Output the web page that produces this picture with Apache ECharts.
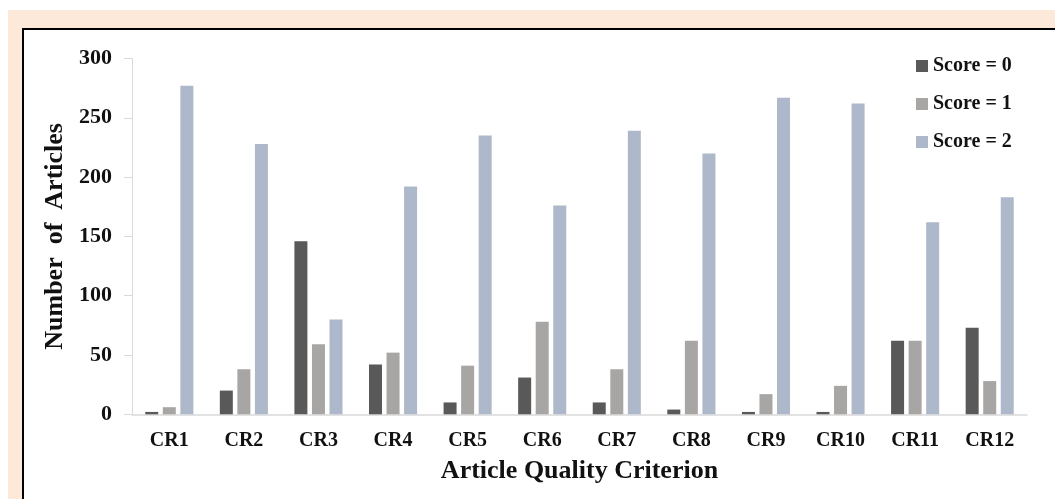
<!DOCTYPE html>
<html>
<head>
<meta charset="utf-8">
<script src="https://cdn.jsdelivr.net/npm/echarts@6/dist/echarts.min.js"></script>
<style>
  html, body { margin: 0; padding: 0; background: #fff; overflow: hidden; }
  #peach { position: absolute; left: 8px; top: 10px; right: 0; bottom: 0; background: #fce9da; }
  #frame { position: absolute; left: 22px; top: 28px; right: -4px; bottom: -4px; background: #fff;
           border-left: 2px solid #000; border-top: 2px solid #000; }
  #chart { position: absolute; left: 0; top: 0; width: 1055px; height: 499px; }
</style>
</head>
<body>
<div id="peach"></div>
<div id="frame"></div>
<div id="chart"></div>
<script>
// 数据
var criteria = ['CR1', 'CR2', 'CR3', 'CR4', 'CR5', 'CR6', 'CR7', 'CR8', 'CR9', 'CR10', 'CR11', 'CR12'];
var seriesNames = ['Score = 0', 'Score = 1', 'Score = 2'];
var score0 = [2, 20, 146, 42, 10, 31, 10, 4, 2, 2, 62, 73];
var score1 = [6, 38, 59, 52, 41, 78, 38, 62, 17, 24, 62, 28];
var score2 = [277, 228, 80, 192, 235, 176, 239, 220, 267, 262, 162, 183];
var yTicks = [0, 50, 100, 150, 200, 250, 300];

var colors = ['#595959', '#a8a6a4', '#adb9ca'];
var font = 'Liberation Serif';

var chart = echarts.init(document.getElementById('chart'));
var values = [score0, score1, score2];
var series = [];
for (var i = 0; i < values.length; i++) {
    series.push({
        name: seriesNames[i],
        type: 'bar',
        data: values[i],
        barWidth: 13,
        barGap: '35%',
        itemStyle: { color: colors[i] },
        animation: false
    });
}

var option = {
    backgroundColor: 'transparent',
    animation: false,
    grid: { left: 132, right: 28, top: 58.5, bottom: 84.7 },
    legend: {
        orient: 'vertical',
        left: 911,
        top: 51,
        icon: 'rect',
        itemWidth: 12,
        itemHeight: 12,
        itemGap: 18,
        textStyle: { fontFamily: font, fontWeight: 'bold', fontSize: 20, color: '#111' },
        data: seriesNames
    },
    xAxis: {
        type: 'category',
        data: criteria,
        name: 'Article Quality Criterion',
        nameLocation: 'middle',
        nameGap: 44,
        nameTextStyle: { fontFamily: font, fontWeight: 'bold', fontSize: 26, color: '#111' },
        axisLine: { lineStyle: { color: '#d9d9d9', width: 1.5 } },
        axisTick: { show: false },
        axisLabel: { margin: 17, fontFamily: font, fontWeight: 'bold', fontSize: 20, color: '#111' }
    },
    yAxis: {
        type: 'value',
        min: yTicks[0],
        max: yTicks[yTicks.length - 1],
        interval: 50,
        name: 'Number  of  Articles',
        nameLocation: 'middle',
        nameGap: 58,
        nameTextStyle: { fontFamily: font, fontWeight: 'bold', fontSize: 26, color: '#111' },
        axisLine: { show: true, lineStyle: { color: '#d9d9d9' } },
        axisTick: { show: true, length: 8, lineStyle: { color: '#d9d9d9' } },
        splitLine: { show: false },
        axisLabel: { margin: 20, fontFamily: font, fontWeight: 'bold', fontSize: 22, color: '#111' }
    },
    series: series
};
chart.setOption(option);
</script>
</body>
</html>
